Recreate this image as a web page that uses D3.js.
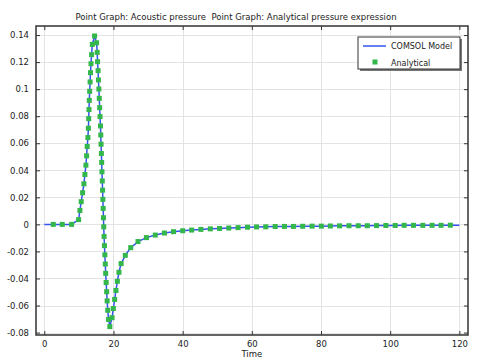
<!DOCTYPE html>
<html>
<head>
<meta charset="utf-8">
<script src="https://cdn.jsdelivr.net/npm/d3@7"></script>
<style>
  body { margin: 0; background: #fff; }
  text { font-family: "DejaVu Sans", sans-serif; fill: #222; }
</style>
</head>
<body>
<script>
var w = 480,
    h = 360,
    margin = {left: 36, top: 26, right: 12, bottom: 25},
    lineColor = "#3355ee",
    markerColor = "#33b64a";

// tick values
var xTicks = [0, 20, 40, 60, 80, 100, 120];
var yTicks = [-0.08, -0.06, -0.04, -0.02, 0, 0.02, 0.04, 0.06, 0.08, 0.1, 0.12, 0.14];

// analytical points (markers)
var analyticalTime = [2.6, 5.19, 7.9, 9.92, 10.3, 10.67, 11.08, 11.45, 11.74, 12.03, 12.23, 12.4, 12.61,
  12.75, 12.84, 12.92, 13.01, 13.12, 13.24, 13.36, 13.5, 13.67, 13.88, 14.54,
  15.12, 15.29, 15.4, 15.55, 15.66, 15.78, 15.89, 16.01, 16.12, 16.24, 16.33, 16.41, 16.5, 16.59,
  16.67, 16.76, 16.85, 16.93, 17.02, 17.11, 17.19, 17.28, 17.39, 17.51, 17.63, 17.74, 17.88, 18.03,
  18.17, 18.35, 18.58, 18.95,
  19.59, 19.96, 20.34, 20.71, 21.12, 21.58, 22.21, 23.42, 24.98, 27.09, 29.54, 32.08, 34.73, 37.36,
  40.01, 42.61, 45.29, 48.0, 50.68, 53.34, 56.02, 58.76, 61.36, 64.04, 66.75, 69.43, 72.03, 74.71,
  77.42, 80.11, 82.7, 85.38, 88.1, 90.78, 93.37, 96.06, 98.77, 101.45, 104.05, 106.73, 109.44,
  112.12, 114.72, 117.4];
var analyticalValue = [0, 0, 0, 0.0035, 0.0103, 0.0168, 0.0234, 0.03, 0.0369, 0.0438, 0.0507, 0.0576, 0.0642,
  0.0711, 0.0782, 0.0849, 0.0917, 0.0984, 0.1053, 0.1122, 0.1188, 0.1255, 0.1331, 0.1393,
  0.1343, 0.1272, 0.1203, 0.1137, 0.1068, 0.1001, 0.0932, 0.0863, 0.0797, 0.0728, 0.0661, 0.0593, 0.0524, 0.0458,
  0.0389, 0.0321, 0.0253, 0.0185, 0.0118, 0.0049, -0.0018, -0.0089, -0.0157, -0.0225, -0.0293, -0.0362, -0.043, -0.0498,
  -0.0566, -0.0635, -0.0703, -0.0756,
  -0.069, -0.0622, -0.0555, -0.0489, -0.0421, -0.0354, -0.029, -0.0229, -0.0172, -0.0127, -0.0098, -0.0079, -0.0064, -0.0054,
  -0.0047, -0.0042, -0.0037, -0.0033, -0.003, -0.0027, -0.0024, -0.0021, -0.0019, -0.0018, -0.0016, -0.0015, -0.0015, -0.0014,
  -0.0013, -0.0013, -0.0012, -0.0011, -0.001, -0.001, -0.001, -0.0009, -0.0008, -0.0008, -0.0007, -0.0007, -0.0007,
  -0.0007, -0.0007, -0.0006];

// COMSOL model curve: same shape, from t = 0 to t = 120
var modelTime = [0].concat(analyticalTime, [120]);
var modelValue = [0].concat(analyticalValue, [-0.0006]);

var svg = d3.select("body").append("svg")
  .attr("width", w)
  .attr("height", h);

var x = d3.scaleLinear()
  .domain([-2.4, 122.5])
  .range([margin.left, w - margin.right]);

var y = d3.scaleLinear()
  .domain([-0.0818, 0.1467])
  .range([h - margin.bottom, margin.top]);

var fmt = function(d) { return String(+d.toFixed(2)); };

// grid
var grid = svg.append("g").attr("stroke", "#e3e3e3").attr("stroke-width", 1);
grid.selectAll(".gx").data(xTicks).enter().append("line")
  .attr("x1", d => Math.round(x(d)) + 0.5).attr("x2", d => Math.round(x(d)) + 0.5)
  .attr("y1", y.range()[0]).attr("y2", y.range()[1]);
grid.selectAll(".gy").data(yTicks).enter().append("line")
  .attr("y1", d => Math.round(y(d)) + 0.5).attr("y2", d => Math.round(y(d)) + 0.5)
  .attr("x1", x.range()[0]).attr("x2", x.range()[1]);

// axes (ticks inside, on all four sides)
svg.append("g")
  .attr("transform", "translate(0," + (h - margin.bottom) + ")")
  .call(d3.axisBottom(x).tickValues(xTicks).tickSizeInner(-4).tickSizeOuter(0).tickPadding(6).tickFormat(d3.format("d")));
svg.append("g")
  .attr("transform", "translate(0," + margin.top + ")")
  .call(d3.axisTop(x).tickValues(xTicks).tickSizeInner(-4).tickSizeOuter(0).tickFormat(""));
svg.append("g")
  .attr("transform", "translate(" + margin.left + ",0)")
  .call(d3.axisLeft(y).tickValues(yTicks).tickSizeInner(-4).tickSizeOuter(0).tickPadding(7).tickFormat(fmt));
svg.append("g")
  .attr("transform", "translate(" + (w - margin.right) + ",0)")
  .call(d3.axisRight(y).tickValues(yTicks).tickSizeInner(-4).tickSizeOuter(0).tickFormat(""));

svg.selectAll(".domain").remove();
svg.selectAll(".tick line").attr("stroke", "#333");
svg.selectAll(".tick text").style("font-family", "DejaVu Sans").style("font-size", "8.5px").attr("fill", "#222");

// frame
svg.append("rect")
  .attr("x", margin.left).attr("y", margin.top)
  .attr("width", w - margin.left - margin.right)
  .attr("height", h - margin.top - margin.bottom)
  .attr("fill", "none").attr("stroke", "#333").attr("stroke-width", 1.5);

// model line
var line = d3.line()
  .x((d, i) => x(modelTime[i]))
  .y((d, i) => y(modelValue[i]));

svg.append("path")
  .datum(modelValue)
  .attr("d", line)
  .attr("fill", "none")
  .attr("stroke", lineColor)
  .attr("stroke-width", 1.5);

// analytical markers
svg.selectAll(".mk").data(analyticalValue).enter().append("rect")
  .attr("x", (d, i) => x(analyticalTime[i]) - 2.5)
  .attr("y", d => y(d) - 2.5)
  .attr("width", 5).attr("height", 5)
  .attr("fill", markerColor);

// title
svg.append("text")
  .attr("x", 236).attr("y", 20)
  .attr("text-anchor", "middle")
  .style("font-size", "8.5px")
  .style("white-space", "pre")
  .text("Point Graph: Acoustic pressure  Point Graph: Analytical pressure expression");

// x label
svg.append("text")
  .attr("x", x(60)).attr("y", 357)
  .attr("text-anchor", "middle")
  .style("font-size", "8.5px")
  .text("Time");

// legend
var lg = svg.append("g").attr("transform", "translate(358,37)");
lg.append("rect").attr("x", 2).attr("y", 2).attr("width", 102).attr("height", 32).attr("fill", "#777");
lg.append("rect").attr("x", 0).attr("y", 0).attr("width", 102).attr("height", 32)
  .attr("fill", "#fff").attr("stroke", "#333").attr("stroke-width", 1);
lg.append("line").attr("x1", 5).attr("x2", 28).attr("y1", 9).attr("y2", 9)
  .attr("stroke", lineColor).attr("stroke-width", 1.5);
lg.append("rect").attr("x", 14.5).attr("y", 22.5).attr("width", 5).attr("height", 5).attr("fill", markerColor);
lg.append("text").attr("x", 33).attr("y", 12).style("font-size", "8px").text("COMSOL Model");
lg.append("text").attr("x", 33).attr("y", 28.5).style("font-size", "8px").text("Analytical");
</script>
</body>
</html>
